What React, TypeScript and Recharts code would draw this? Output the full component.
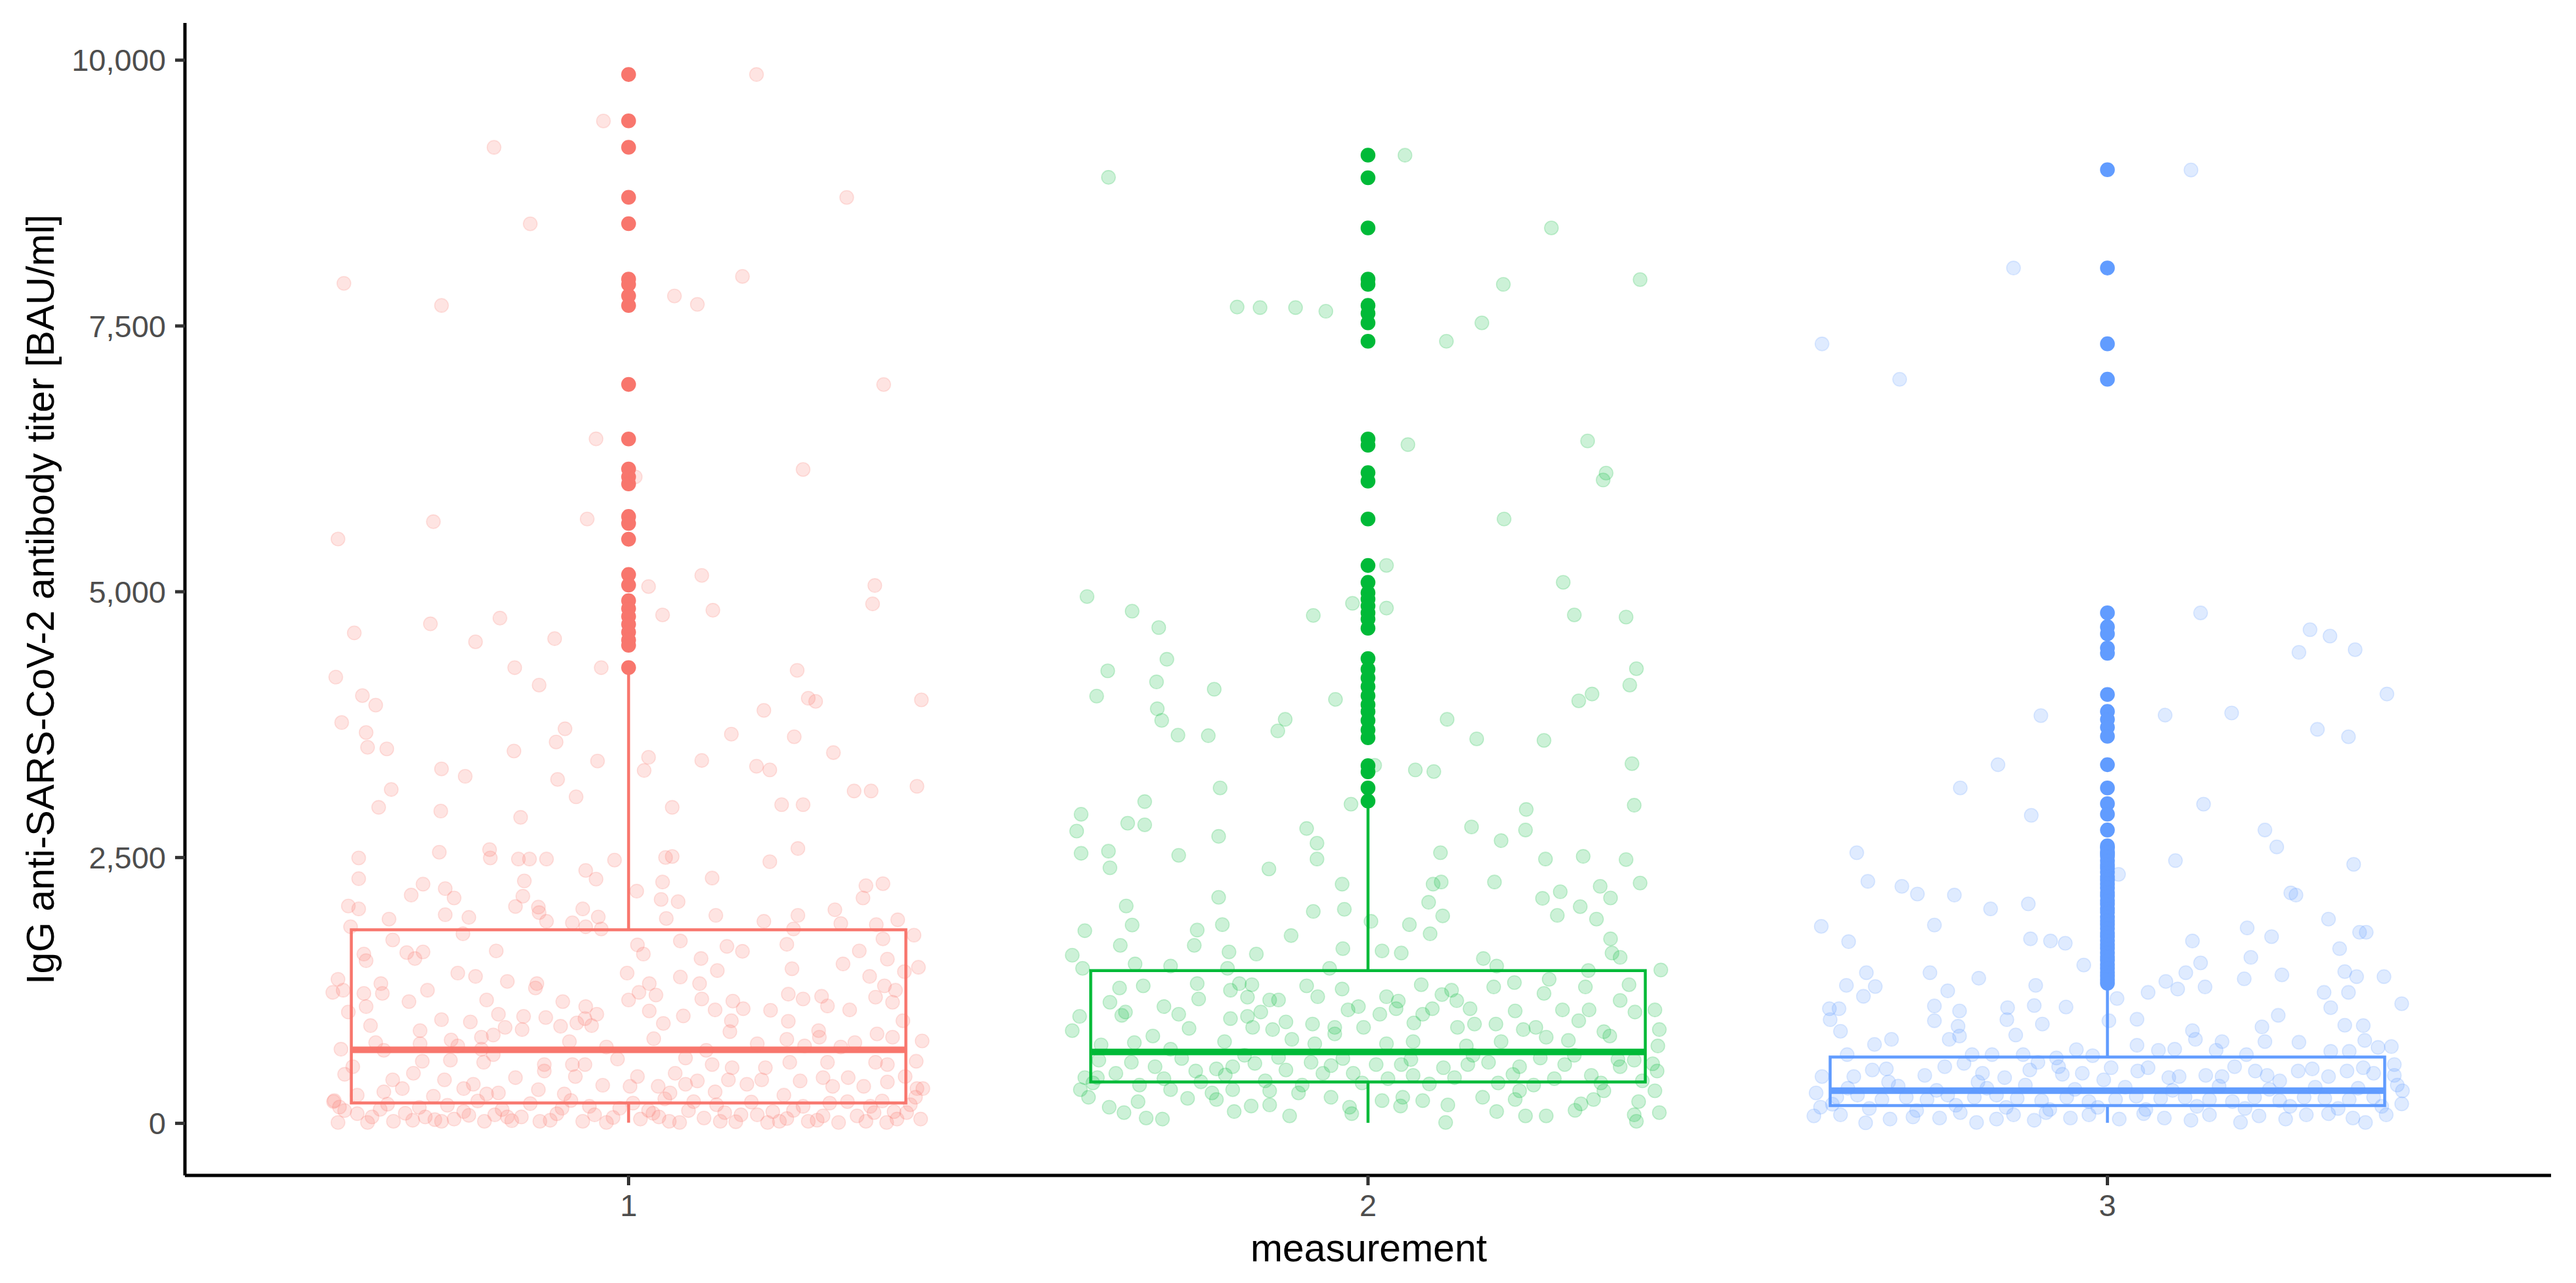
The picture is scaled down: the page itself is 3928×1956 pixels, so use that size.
import {
  ComposedChart,
  Scatter,
  XAxis,
  YAxis,
  ReferenceArea,
  ReferenceLine,
} from "recharts";

const groups = [1, 2, 3];
const groupColors = ["#F8766D", "#00BA38", "#619CFF"];
const xTicks = [1, 2, 3];
const yTicks = [0, 2500, 5000, 7500, 10000];

// boxplot stats per measurement
const q1 = [191, 389, 167];
const medians = [691, 672, 308];
const q3 = [1820, 1437, 623];
const whiskerLow = [6, 5, 5];
const whiskerHigh = [4230, 2985, 1290];

const outliers1 = [9865, 9429, 9181, 8710, 8462, 7941, 7892, 7783, 7693, 6950, 6437, 6154, 6080, 6015, 5708, 5643, 5494, 5162, 5063, 4916, 4842, 4768, 4694, 4620, 4546, 4497, 4287];
const outliers2 = [9107, 8894, 8422, 7941, 7892, 7693, 7619, 7529, 7356, 6437, 6378, 6120, 6041, 5684, 5247, 5088, 4990, 4931, 4866, 4802, 4743, 4657, 4371, 4271, 4189, 4108, 4022, 3939, 3874, 3790, 3701, 3627, 3364, 3306, 3155, 3031];
const outliers3 = [8970, 8045, 7332, 6999, 4802, 4670, 4604, 4470, 4421, 4034, 3874, 3800, 3726, 3641, 3373, 3155, 3007, 2908, 2759, 2610, 2535, 2588, 2552, 2511, 2470, 2432, 2401, 2360, 2318, 2287, 2250, 2213, 2170, 2138, 2096, 2062, 2020, 1985, 1941, 1906, 1871, 1833, 1790, 1756, 1718, 1680, 1644, 1605, 1566, 1533, 1494, 1458, 1420, 1385, 1351, 1318];

// jittered observations: [offset from category, titer]
const jitter1: [number, number][] = [
  [0.173,9865],[-0.034,9428],[-0.182,9180],[0.295,8709],[-0.133,8461],[-0.385,7901],[0.154,7966],[-0.253,7693],[0.062,7782],[0.093,7703],[0.345,6949],[-0.044,6438],[0.236,6150],[0.009,6081],[-0.264,5659],[-0.056,5684],[-0.393,5496],[0.099,5154],[0.027,5049],[0.333,5059],[0.330,4886],[0.114,4826],[0.046,4782],[-0.371,4613],[-0.268,4698],[-0.174,4752],[-0.207,4529],[-0.100,4559],[-0.154,4286],[-0.037,4286],[0.228,4261],[-0.396,4197],[-0.121,4122],[-0.360,4023],[-0.342,3934],[0.243,3998],[0.253,3969],[0.396,3983],[0.183,3884],[-0.388,3770],[-0.355,3676],[-0.086,3711],[-0.098,3587],[0.139,3661],[0.224,3636],[-0.353,3537],[-0.327,3522],[-0.155,3502],[0.277,3487],[-0.042,3408],[0.027,3443],[0.099,3413],[-0.253,3334],[-0.221,3264],[0.021,3319],[0.173,3359],[0.191,3324],[-0.096,3235],[-0.321,3140],[0.305,3126],[0.328,3126],[0.390,3170],[-0.071,3071],[-0.338,2972],[-0.254,2937],[0.059,2972],[0.207,2997],[0.236,2997],[-0.146,2878],[-0.365,2496],[-0.256,2550],[-0.188,2575],[-0.187,2496],[-0.149,2486],[-0.134,2486],[-0.111,2486],[-0.019,2476],[0.050,2501],[0.059,2510],[0.229,2585],[0.191,2461],
  [-0.365,2301],[-0.278,2250],[-0.294,2147],[-0.248,2208],[-0.236,2120],[-0.141,2280],[-0.143,2136],[-0.058,2379],[-0.044,2297],[0.011,2184],[0.046,2270],[0.113,2307],[0.044,2106],[0.067,2085],[-0.379,2044],[-0.365,2017],[-0.324,1921],[-0.248,1962],[-0.216,1937],[-0.153,2040],[-0.122,2034],[-0.121,1982],[-0.111,1900],[-0.076,1886],[-0.062,2017],[-0.058,1849],[-0.041,1941],[-0.037,1828],[0.051,1927],[0.118,1956],[0.183,1900],[0.229,1956],[0.223,1828],[0.279,2009],[0.287,1879],[0.321,2235],[0.344,2254],[0.317,2120],[0.335,1869],[0.364,1914],[0.386,1770],[-0.376,1849],[-0.224,1783],
  [-0.319,1725],[-0.358,1592],[-0.355,1530],[-0.300,1606],[-0.289,1550],[-0.278,1612],[-0.179,1622],[0.012,1678],[0.020,1592],[0.070,1715],[0.098,1550],[0.133,1664],[0.154,1618],[0.214,1684],[0.312,1622],[0.350,1544],[0.344,1735],[0.290,1499],[0.221,1454],[0.392,1468],[0.373,1427],[0.326,1382],[-0.393,1355],[-0.400,1232],[-0.386,1252],[-0.335,1314],[-0.333,1222],[-0.358,1222],[-0.355,1098],[-0.272,1252],[-0.297,1145],[-0.231,1413],[-0.207,1382],[-0.164,1335],[-0.124,1314],[-0.126,1273],[-0.192,1160],[-0.089,1145],[-0.058,1098],[-0.002,1413],[0.028,1314],[0.014,1232],[0.037,1207],[0.000,1160],[0.070,1376],[0.096,1314],[0.120,1437],[0.099,1170],[0.141,1150],[0.155,1078],[0.216,1215],[0.236,1170],[0.261,1195],[0.269,1104],[0.299,1067],[0.334,1187],[0.346,1293],[0.361,1252],[0.357,1139],
  [-0.379,1047],[-0.349,919],[-0.253,975],[-0.214,954],[-0.176,1026],[-0.167,903],[-0.142,1006],[-0.144,882],[-0.112,995],[-0.092,913],[-0.070,944],[-0.059,985],[-0.050,919],[-0.043,1026],[0.028,1057],[0.047,940],[0.074,1010],[0.117,1067],[0.139,965],[0.137,862],[0.192,1063],[0.216,960],[0.257,872],[0.258,810],[0.336,841],[0.357,810],[0.371,965],[0.397,775],[-0.282,872],[-0.240,784],[-0.199,810],[-0.183,831],[-0.080,769],[0.034,796],[0.174,749],[0.214,790],[0.306,759],
  [-0.389,697],[-0.342,759],[-0.331,687],[-0.282,749],[-0.231,728],[-0.199,697],[-0.030,718],[0.105,687],[0.238,728],[0.287,718],[0.389,584],
  [-0.373,533],[-0.384,461],[-0.291,471],[-0.279,584],[-0.241,594],[-0.196,574],[-0.183,646],[-0.114,553],[-0.114,492],[-0.076,553],[-0.059,553],[-0.015,605],[0.077,615],[0.113,553],[0.140,523],[0.185,523],[0.218,574],[0.269,574],[0.334,574],[0.350,553],
  [-0.319,409],[-0.306,327],[-0.331,296],[-0.367,265],[-0.398,214],[-0.264,255],[-0.249,409],[-0.223,327],[-0.210,368],[-0.192,276],[-0.176,286],[-0.153,430],[-0.122,317],[-0.087,276],[-0.072,440],[-0.035,358],[0.002,348],[0.012,440],[0.040,348],[0.056,286],[0.063,471],[0.077,368],[0.093,399],[0.117,296],[0.135,409],[0.160,368],[0.180,409],[0.210,265],[0.232,399],[0.263,430],[0.276,348],[0.297,430],[0.318,348],[0.350,389],[0.374,440],[0.390,327],
  [-0.399,204],[-0.391,153],[-0.393,8],[-0.367,91],[-0.353,8],[-0.336,132],[-0.318,19],[-0.292,29],[-0.275,60],[-0.253,19],[-0.236,40],[-0.223,111],[-0.195,19],[-0.181,80],[-0.164,60],[-0.145,60],[-0.120,19],[-0.106,29],[-0.090,142],[-0.062,19],[-0.046,80],[-0.030,8],[-0.012,142],[0.016,40],[0.027,122],[0.041,60],[0.055,19],[0.069,8],[0.088,204],[0.124,19],[0.130,101],[0.152,80],[0.174,80],[0.188,8],[0.204,19],[0.223,122],[0.243,19],[0.263,70],[0.284,8],[0.296,204],[0.321,19],[0.332,101],[0.349,8],[0.363,40],[0.376,101],[0.395,40],[0.388,245],[0.398,327],
  [-0.384,120],[-0.347,60],[-0.326,180],[-0.302,95],[-0.283,150],[-0.262,35],[-0.245,170],[-0.216,75],[-0.204,210],[-0.171,130],[-0.158,25],[-0.133,185],[-0.097,90],[-0.078,215],[-0.053,160],[-0.021,55],[0.006,190],[0.033,95],[0.049,230],[0.081,120],[0.102,50],[0.119,175],[0.145,15],[0.166,200],[0.195,110],[0.214,45],[0.236,160],[0.255,30],[0.272,190],[0.309,70],[0.327,160],[0.343,210],[0.359,110],[0.381,175],
];

const jitter2: [number, number][] = [
  [0.050,9106],[-0.351,8898],[0.248,8422],[0.368,7936],[0.183,7891],[-0.177,7678],[-0.146,7673],[-0.098,7673],[-0.057,7638],[0.154,7529],[0.106,7356],[0.054,6384],[0.297,6418],[0.322,6116],[0.318,6051],[0.184,5684],[0.025,5248],[0.264,5089],[-0.380,4955],[-0.319,4817],[-0.021,4891],[0.025,4846],[-0.074,4777],[0.279,4782],[0.349,4762],[-0.283,4663],[-0.272,4365],[-0.352,4256],[0.363,4276],[-0.286,4152],[-0.208,4083],[0.354,4122],[-0.367,4018],[-0.044,3988],[0.303,4038],[0.285,3974],[-0.285,3899],[-0.279,3790],[-0.112,3800],[-0.122,3691],[0.107,3800],[-0.257,3651],[-0.216,3646],[0.147,3616],[0.238,3602],[0.009,3368],[0.064,3324],[0.089,3309],[0.357,3383],[-0.200,3155],[-0.302,3026],[-0.023,3002],[0.214,2952],[0.360,2992],[-0.388,2907],[-0.394,2749],[-0.325,2823],[-0.302,2808],[-0.202,2699],[-0.083,2773],[-0.069,2635],[0.140,2788],[0.180,2659],[0.213,2759],[-0.388,2540],[-0.351,2560],[-0.256,2521],[0.098,2545],[0.240,2486],[0.291,2511],[0.349,2481],[-0.069,2486],
  [-0.134,2393],[-0.349,2404],[-0.035,2250],[0.088,2250],[0.099,2270],[0.171,2270],[0.368,2260],[-0.202,2126],[0.236,2116],[0.260,2178],[0.314,2229],[0.328,2120],[0.082,2079],[-0.327,2044],[-0.074,1993],[-0.032,2013],[0.287,2038],[0.256,1956],[0.309,1921],[-0.319,1865],[-0.197,1869],[-0.383,1812],[-0.231,1818],[-0.104,1766],[0.004,1900],[0.056,1869],[0.084,1783],[0.101,1951],[0.328,1735],[-0.335,1674],[-0.235,1674],[-0.188,1612],[-0.151,1592],[-0.034,1643],[0.019,1622],[0.045,1602],[0.156,1550],[0.330,1602],[0.341,1561],[-0.400,1581],[-0.386,1458],[-0.315,1499],[-0.267,1479],[-0.190,1458],[-0.052,1458],[0.174,1479],[0.396,1442],[0.298,1437],
  [-0.336,1273],[-0.304,1293],[-0.349,1139],[-0.276,1098],[-0.231,1314],[-0.229,1170],[-0.186,1252],[-0.174,1314],[-0.157,1304],[-0.163,1187],[-0.133,1160],[-0.121,1160],[-0.083,1293],[-0.068,1191],[-0.035,1263],[0.025,1191],[0.041,1150],[0.072,1304],[0.100,1211],[0.113,1252],[0.120,1154],[0.170,1283],[0.198,1324],[0.238,1222],[0.245,1355],[0.294,1283],[0.341,1156],[0.353,1304],
  [-0.390,1006],[-0.400,872],[-0.333,1016],[-0.328,1047],[-0.256,1026],[-0.242,893],[-0.186,985],[-0.163,1006],[-0.156,903],[-0.145,1047],[-0.129,882],[-0.111,954],[-0.075,934],[-0.027,1067],[-0.013,1098],[-0.045,903],[-0.006,903],[0.016,1026],[0.038,1078],[0.062,944],[0.074,1026],[0.087,1078],[0.121,903],[0.138,1078],[0.144,934],[0.173,934],[0.199,1057],[0.210,882],[0.227,903],[0.263,1067],[0.285,965],[0.299,1067],[0.319,862],[0.361,1047],[0.388,1067],[0.394,882],
  [-0.361,738],[-0.316,759],[-0.291,821],[-0.267,697],[-0.194,769],[-0.103,790],[-0.072,749],[-0.045,841],[0.025,749],[0.061,769],[0.133,728],[0.180,769],[0.241,810],[0.271,780],[0.327,821],[0.392,728],
  [-0.364,594],[-0.320,574],[-0.288,533],[-0.233,492],[-0.205,512],[-0.183,533],[-0.153,564],[-0.111,502],[-0.077,574],[-0.050,543],[-0.020,471],[0.011,553],[0.045,553],[0.061,451],[0.102,523],[0.135,553],[0.163,574],[0.205,533],[0.233,615],[0.266,553],[0.302,451],[0.341,533],[0.360,594],[0.391,492],[-0.383,430],[-0.366,430],
  [-0.372,380],[-0.341,470],[-0.309,360],[-0.276,420],[-0.252,610],[-0.226,390],[-0.193,455],[-0.167,640],[-0.139,400],[-0.121,620],[-0.089,360],[-0.061,470],[-0.034,610],[-0.008,380],[0.027,420],[0.058,600],[0.083,370],[0.117,430],[0.142,640],[0.176,380],[0.196,460],[0.224,360],[0.252,420],[0.279,640],[0.315,380],[0.338,600],[0.371,400],[0.385,560],
  [-0.389,317],[-0.378,245],[-0.350,152],[-0.330,101],[-0.300,50],[-0.278,40],[-0.311,204],[-0.244,235],[-0.211,286],[-0.205,224],[-0.183,317],[-0.181,111],[-0.158,163],[-0.133,173],[-0.106,70],[-0.094,286],[-0.050,245],[-0.025,152],[-0.022,91],[0.019,214],[0.044,163],[0.074,214],[0.108,173],[0.105,8],[0.155,245],[0.174,111],[0.199,224],[0.213,70],[0.241,70],[0.280,122],[0.288,183],[0.305,224],[0.360,80],[0.363,19],[0.394,101],[0.388,306],[0.366,204],[0.319,306],[0.205,306],[0.047,245],[-0.133,306],[-0.267,317],
];

const jitter3: [number, number][] = [
  [0.113,8967],[-0.127,8045],[-0.386,7331],[-0.281,6998],[0.126,4801],[0.274,4643],[0.301,4583],[0.259,4430],[0.335,4455],[0.378,4038],[-0.090,3835],[0.078,3840],[0.168,3860],[0.284,3706],[0.326,3636],[-0.148,3373],[-0.199,3155],[-0.103,2897],[0.130,3002],[0.213,2759],[0.229,2600],[-0.339,2545],[0.092,2471],[0.333,2436],
  [-0.324,2276],[-0.278,2229],[-0.257,2157],[-0.207,2147],[-0.158,2017],[-0.107,2064],[0.015,2342],[0.248,2167],[0.255,2147],[-0.387,1853],[-0.234,1865],[-0.350,1709],[-0.104,1735],[-0.077,1715],[-0.057,1694],[-0.032,1489],[0.115,1715],[0.189,1838],[0.222,1756],[0.299,1921],[0.314,1643],[0.341,1797],[0.350,1797],[0.194,1561],[0.126,1509],[0.106,1417],[0.185,1359],[0.236,1396],[0.321,1427],[0.337,1380],[0.374,1380],[-0.326,1417],[-0.353,1298],[-0.314,1287],[-0.330,1195],[-0.240,1417],[-0.174,1365],[-0.216,1246],[-0.097,1298],[0.079,1335],[0.095,1263],[0.132,1283],[0.055,1232],[0.293,1232],[0.326,1232],[0.013,1174],
  [-0.376,1078],[-0.363,1078],[-0.375,975],[-0.361,866],[-0.234,1104],[-0.200,1057],[-0.234,965],[-0.202,913],[-0.214,790],[-0.200,821],[-0.135,1088],[-0.136,975],[-0.124,831],[-0.099,1108],[-0.088,934],[-0.056,1094],[0.002,965],[0.040,979],[0.040,734],[0.231,1016],[0.209,907],[0.213,769],[0.302,1088],[0.321,923],[0.346,919],[0.348,780],[0.398,1125],[0.115,872],[0.119,790],[0.155,769],[0.147,687],[0.259,763],[0.366,714],[0.384,722],[-0.315,742],[-0.292,790],[-0.042,693],[0.069,687],[0.091,697],[0.188,646],[0.302,677],[0.327,677],[-0.352,646],[-0.183,646],[-0.156,646],[-0.114,646],[-0.069,615],[-0.020,636],
  [-0.386,440],[-0.343,440],[-0.318,502],[-0.299,512],[-0.296,389],[-0.247,451],[-0.220,533],[-0.194,564],[-0.175,389],[-0.169,471],[-0.139,430],[-0.105,502],[-0.094,574],[-0.066,533],[-0.061,461],[-0.034,471],[-0.005,409],[0.005,523],[0.041,492],[0.055,523],[0.083,430],[0.097,440],[0.133,451],[0.155,440],[0.172,533],[0.200,492],[0.216,451],[0.233,399],[0.258,492],[0.277,512],[0.299,440],[0.324,492],[0.346,523],[0.360,471],[0.388,451],[0.388,553],[0.399,306],
  [-0.394,286],[-0.366,245],[-0.338,265],[-0.305,224],[-0.272,245],[-0.244,224],[-0.216,265],[-0.180,245],[-0.150,265],[-0.122,235],[-0.089,214],[-0.055,245],[-0.025,204],[0.011,224],[0.039,255],[0.072,235],[0.105,245],[0.138,224],[0.169,204],[0.199,245],[0.233,214],[0.266,245],[0.294,235],[0.327,224],[0.360,245],[0.398,183],
  [-0.372,180],[-0.351,330],[-0.322,140],[-0.283,350],[-0.258,120],[-0.231,310],[-0.205,170],[-0.163,330],[-0.137,150],[-0.111,360],[-0.078,130],[-0.044,320],[-0.013,150],[0.024,340],[0.052,130],[0.088,310],[0.121,160],[0.151,350],[0.186,140],[0.219,320],[0.247,160],[0.281,340],[0.312,140],[0.339,330],[0.371,160],[0.392,360],
  [-0.397,70],[-0.388,152],[-0.361,80],[-0.327,5],[-0.294,40],[-0.263,60],[-0.227,50],[-0.199,101],[-0.177,8],[-0.150,40],[-0.127,80],[-0.099,29],[-0.083,101],[-0.050,50],[-0.025,80],[0.016,40],[0.049,91],[0.077,50],[0.113,29],[0.138,80],[0.180,10],[0.205,70],[0.241,40],[0.269,80],[0.299,91],[0.332,50],[0.349,8],[0.377,80],
];

const jitters = [jitter1, jitter2, jitter3];
const outliers = [outliers1, outliers2, outliers3];

const FONT = "'Liberation Sans', Arial, Helvetica, sans-serif";
const BOX_HALF = 0.375;

function makeDot(color: string, opacity: number) {
  return (props: any) => (
    <circle
      cx={props.cx}
      cy={props.cy}
      r={10.5}
      fill={color}
      fillOpacity={opacity}
      stroke={color}
      strokeOpacity={opacity}
      strokeWidth={1.6}
    />
  );
}

function YTitle() {
  return (
    <text
      x={82}
      y={914}
      transform="rotate(-90 82 914)"
      textAnchor="middle"
      fontSize={59}
      fontFamily={FONT}
      fill="#000000"
    >
      IgG anti-SARS-CoV-2 antibody titer [BAU/ml]
    </text>
  );
}

function XTitle() {
  return (
    <text x={2087} y={1923} textAnchor="middle" fontSize={59} fontFamily={FONT} fill="#000000">
      measurement
    </text>
  );
}

export default function App() {
  return (
    <div style={{ position: "absolute", left: 0, top: 0, background: "#ffffff" }}>
      <ComposedChart width={3928} height={1956} margin={{ top: 35, right: 38, left: 0, bottom: 0 }}>
        <XAxis
          type="number"
          dataKey="x"
          domain={[0.4, 3.6]}
          ticks={xTicks}
          allowDataOverflow
          height={164}
          tickSize={15}
          tickMargin={14}
          tick={{ fontSize: 47, fill: "#4D4D4D", fontFamily: FONT }}
          axisLine={{ stroke: "#000000", strokeWidth: 5 }}
          tickLine={{ stroke: "#333333", strokeWidth: 5 }}
          label={<XTitle />}
        />
        <YAxis
          type="number"
          dataKey="y"
          domain={[-490, 10350]}
          ticks={yTicks}
          allowDataOverflow
          width={282}
          tickSize={15}
          tickMargin={14}
          tickFormatter={(v) => Number(v).toLocaleString("en-US")}
          tick={{ fontSize: 47, fill: "#4D4D4D", fontFamily: FONT }}
          axisLine={{ stroke: "#000000", strokeWidth: 5 }}
          tickLine={{ stroke: "#333333", strokeWidth: 5 }}
          label={<YTitle />}
        />

        {groups.map((g, i) => (
          <ReferenceLine
            key={`wu${g}`}
            segment={[{ x: g, y: q3[i] }, { x: g, y: whiskerHigh[i] }]}
            stroke={groupColors[i]}
            strokeWidth={4.5}
          />
        ))}
        {groups.map((g, i) => (
          <ReferenceLine
            key={`wl${g}`}
            segment={[{ x: g, y: whiskerLow[i] }, { x: g, y: q1[i] }]}
            stroke={groupColors[i]}
            strokeWidth={4.5}
          />
        ))}
        {groups.map((g, i) => (
          <ReferenceArea
            key={`box${g}`}
            x1={g - BOX_HALF}
            x2={g + BOX_HALF}
            y1={q1[i]}
            y2={q3[i]}
            fill="#ffffff"
            fillOpacity={0}
            stroke={groupColors[i]}
            strokeWidth={4.5}
          />
        ))}
        {groups.map((g, i) => (
          <ReferenceLine
            key={`med${g}`}
            segment={[{ x: g - BOX_HALF, y: medians[i] }, { x: g + BOX_HALF, y: medians[i] }]}
            stroke={groupColors[i]}
            strokeWidth={10}
          />
        ))}

        {groups.map((g, i) => (
          <Scatter
            key={`out${g}`}
            data={outliers[i].map((v) => ({ x: g, y: v }))}
            dataKey="y"
            shape={makeDot(groupColors[i], 1)}
            isAnimationActive={false}
          />
        ))}
        {groups.map((g, i) => (
          <Scatter
            key={`jit${g}`}
            data={jitters[i].map(([d, v]) => ({ x: g + d, y: v }))}
            dataKey="y"
            shape={makeDot(groupColors[i], 0.2)}
            isAnimationActive={false}
          />
        ))}
      </ComposedChart>
    </div>
  );
}
